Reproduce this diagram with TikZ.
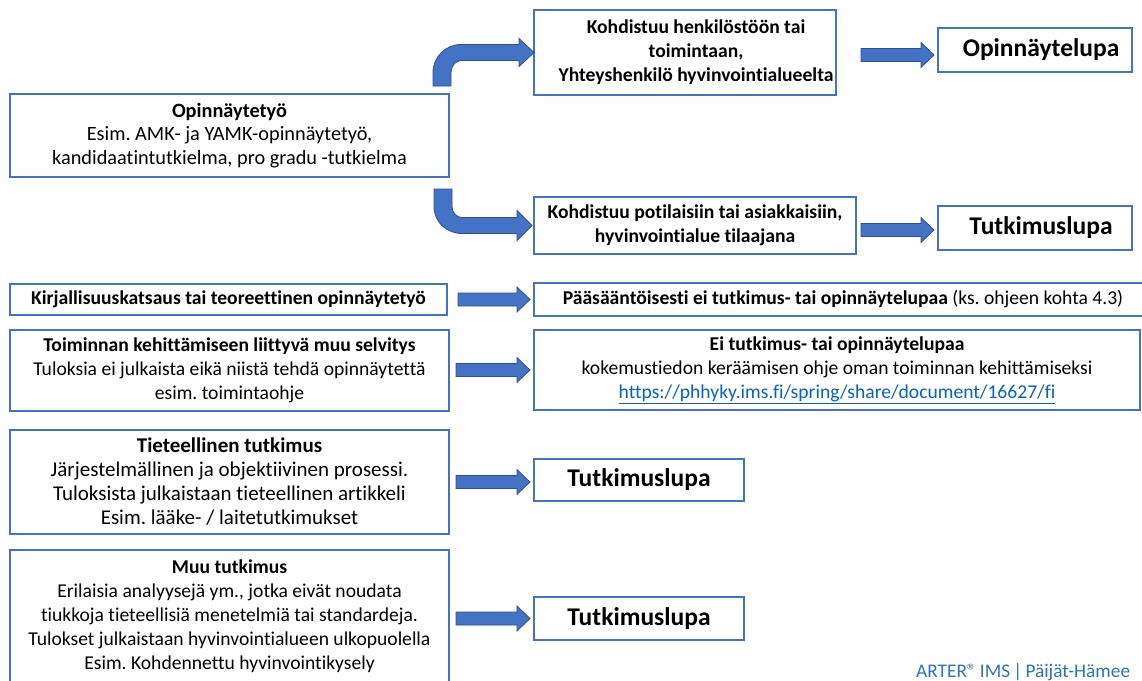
\documentclass[tikz,border=0pt]{standalone}
\usepackage{fontspec}
\setmainfont{Carlito}[Ligatures=NoCommon]
\usetikzlibrary{calc}
\definecolor{bx}{HTML}{4472C4}
\definecolor{bxd}{HTML}{2F528F}
\definecolor{lnk}{HTML}{0563C1}
\definecolor{ft}{HTML}{2E75B6}
\newcommand\blockarr[5]{% from, to, left gap, right gap, downward offset
  \path[barrow] let \p1=(#1.east), \p2=($(#2.west)+(0,#5)$) in
    (\x1+#3,\y2+6.5pt) -- (\x2-#4-13pt,\y2+6.5pt) -- (\x2-#4-13pt,\y2+12.5pt) --
    (\x2-#4,\y2) -- (\x2-#4-13pt,\y2-12.5pt) -- (\x2-#4-13pt,\y2-6.5pt) --
    (\x1+#3,\y2-6.5pt) -- cycle;}
\begin{document}
\frenchspacing
\begin{tikzpicture}[x=1pt,y=-1pt,
  box/.style={draw=bx, line width=2pt, fill=white, align=center, inner sep=0pt, text=black,
    font=\fontsize{19.6}{24}\selectfont},
  lbox/.style={box, font=\fontsize{20.3}{23.5}\selectfont},
  tbox/.style={box, font=\fontsize{21}{24}\selectfont},
  bigbox/.style={box, font=\fontsize{25.5}{30}\selectfont\bfseries},
  barrow/.style={fill=bx, draw=bxd, line width=0.8pt, line join=miter}]
\useasboundingbox (0,0) rectangle (1142,680);
\clip (0,0) rectangle (1142,680);
\fill[white] (0,0) rectangle (1142,680);

\node[lbox, minimum width=439, minimum height=83] (opi) at (229.5,135.5)
  {\textbf{Opinnäytetyö}\\Esim. AMK- ja YAMK-opinnäytetyö,\\kandidaatintutkielma, pro gradu -tutkielma};
\node[box, minimum width=302, minimum height=85] (k1) at (685,52.5)
  {\hspace*{22pt}\textbf{Kohdistuu henkilöstöön tai}\\\hspace*{22pt}\textbf{toimintaan,}\\\hspace*{22pt}\textbf{Yhteyshenkilö hyvinvointialueelta}};
\node[bigbox, minimum width=194, minimum height=44] (ol) at (1035,50) {\hspace*{12pt}Opinnäytelupa};
\node[box, minimum width=322, minimum height=57] (k2) at (695,225.5)
  {\textbf{Kohdistuu potilaisiin tai asiakkaisiin,}\\\textbf{hyvinvointialue tilaajana}};
\node[bigbox, minimum width=194, minimum height=44] (t1) at (1035,228) {\hspace*{12pt}Tutkimuslupa};
\node[box, minimum width=437, minimum height=31] (kir) at (228.5,299.5)
  {\textbf{Kirjallisuuskatsaus tai teoreettinen opinnäytetyö}};
\node[box, minimum width=618, minimum height=33] (paa) at (843,299.5)
  {\textbf{Pääsääntöisesti ei tutkimus- tai opinnäytelupaa} (ks. ohjeen kohta 4.3)};
\node[box, minimum width=439, minimum height=81] (toi) at (229.5,370.5)
  {\textbf{Toiminnan kehittämiseen liittyvä muu selvitys}\\Tuloksia ei julkaista eikä niistä tehdä opinnäytettä\\esim. toimintaohje};
\node[box, minimum width=606, minimum height=80] (ei) at (837,370)
  {\textbf{Ei tutkimus- tai opinnäytelupaa}\\kokemustiedon keräämisen ohje oman toiminnan kehittämiseksi\\
   \textcolor{lnk}{\underline{https://phhyky.ims.fi/spring/share/document/16627/fi}}};
\node[tbox, minimum width=439, minimum height=104] (tie) at (229.5,482)
  {\textbf{Tieteellinen tutkimus}\\Järjestelmällinen ja objektiivinen prosessi.\\Tuloksista julkaistaan tieteellinen artikkeli\\Esim. lääke- / laitetutkimukset};
\node[bigbox, minimum width=210, minimum height=42] (t2) at (639,480) {Tutkimuslupa};
\node[box, minimum width=439, minimum height=132] (muu) at (229.5,616)
  {\textbf{Muu tutkimus}\\Erilaisia analyysejä ym., jotka eivät noudata\\tiukkoja tieteellisiä menetelmiä tai standardeja.\\Tulokset julkaistaan hyvinvointialueen ulkopuolella\\Esim. Kohdennettu hyvinvointikysely};
\node[bigbox, minimum width=210, minimum height=43] (t3) at (639,618.5) {Tutkimuslupa};

% bent arrows
\path[barrow] let \p1=(opi.north east), \p2=(k1.west) in
  (\x1-17pt,\y1+7pt) -- (\x1-17pt,\y2-20pt)
  .. controls (\x1-17pt,\y2-4.5pt) and (\x1-4.5pt,\y2+8pt) .. (\x1+11pt,\y2+8pt)
  -- (\x2-14pt,\y2+8pt) -- (\x2-14pt,\y2+14pt) -- (\x2+1pt,\y2) -- (\x2-14pt,\y2-14pt)
  -- (\x2-14pt,\y2-8pt) -- (\x1+11pt,\y2-8pt)
  .. controls (\x1+5.5pt,\y2-8pt) and (\x1+1pt,\y2-14pt) .. (\x1+1pt,\y2-20pt)
  -- (\x1+1pt,\y1+7pt) -- cycle;
\path[barrow] let \p1=(opi.south east), \p2=(k2.west) in
  (\x1-16pt,\y1-11pt) -- (\x1-16pt,\y2+19pt)
  .. controls (\x1-16pt,\y2+3.5pt) and (\x1-3.5pt,\y2-8pt) .. (\x1+12pt,\y2-8pt)
  -- (\x2-16pt,\y2-8pt) -- (\x2-16pt,\y2-15pt) -- (\x2-1pt,\y2) -- (\x2-16pt,\y2+15pt)
  -- (\x2-16pt,\y2+8pt) -- (\x1+12pt,\y2+8pt)
  .. controls (\x1+6.5pt,\y2+8pt) and (\x1+2pt,\y2+13pt) .. (\x1+2pt,\y2+19pt)
  -- (\x1+2pt,\y1-11pt) -- cycle;

% straight arrows
\blockarr{k1}{ol}{24pt}{3pt}{5}
\blockarr{k2}{t1}{4pt}{3pt}{2}
\blockarr{kir}{paa}{10pt}{3pt}{0}
\blockarr{toi}{ei}{6pt}{3pt}{0}
\blockarr{tie}{t2}{6pt}{3pt}{2}
\blockarr{muu}{t3}{6pt}{3pt}{0}

\node[anchor=west, text=ft, font=\fontsize{19.3}{22}\selectfont, inner sep=0pt] (foot) at (916,672) {ARTER®\,IMS\,|\,Päijät-Hämee};
\end{tikzpicture}
\end{document}
